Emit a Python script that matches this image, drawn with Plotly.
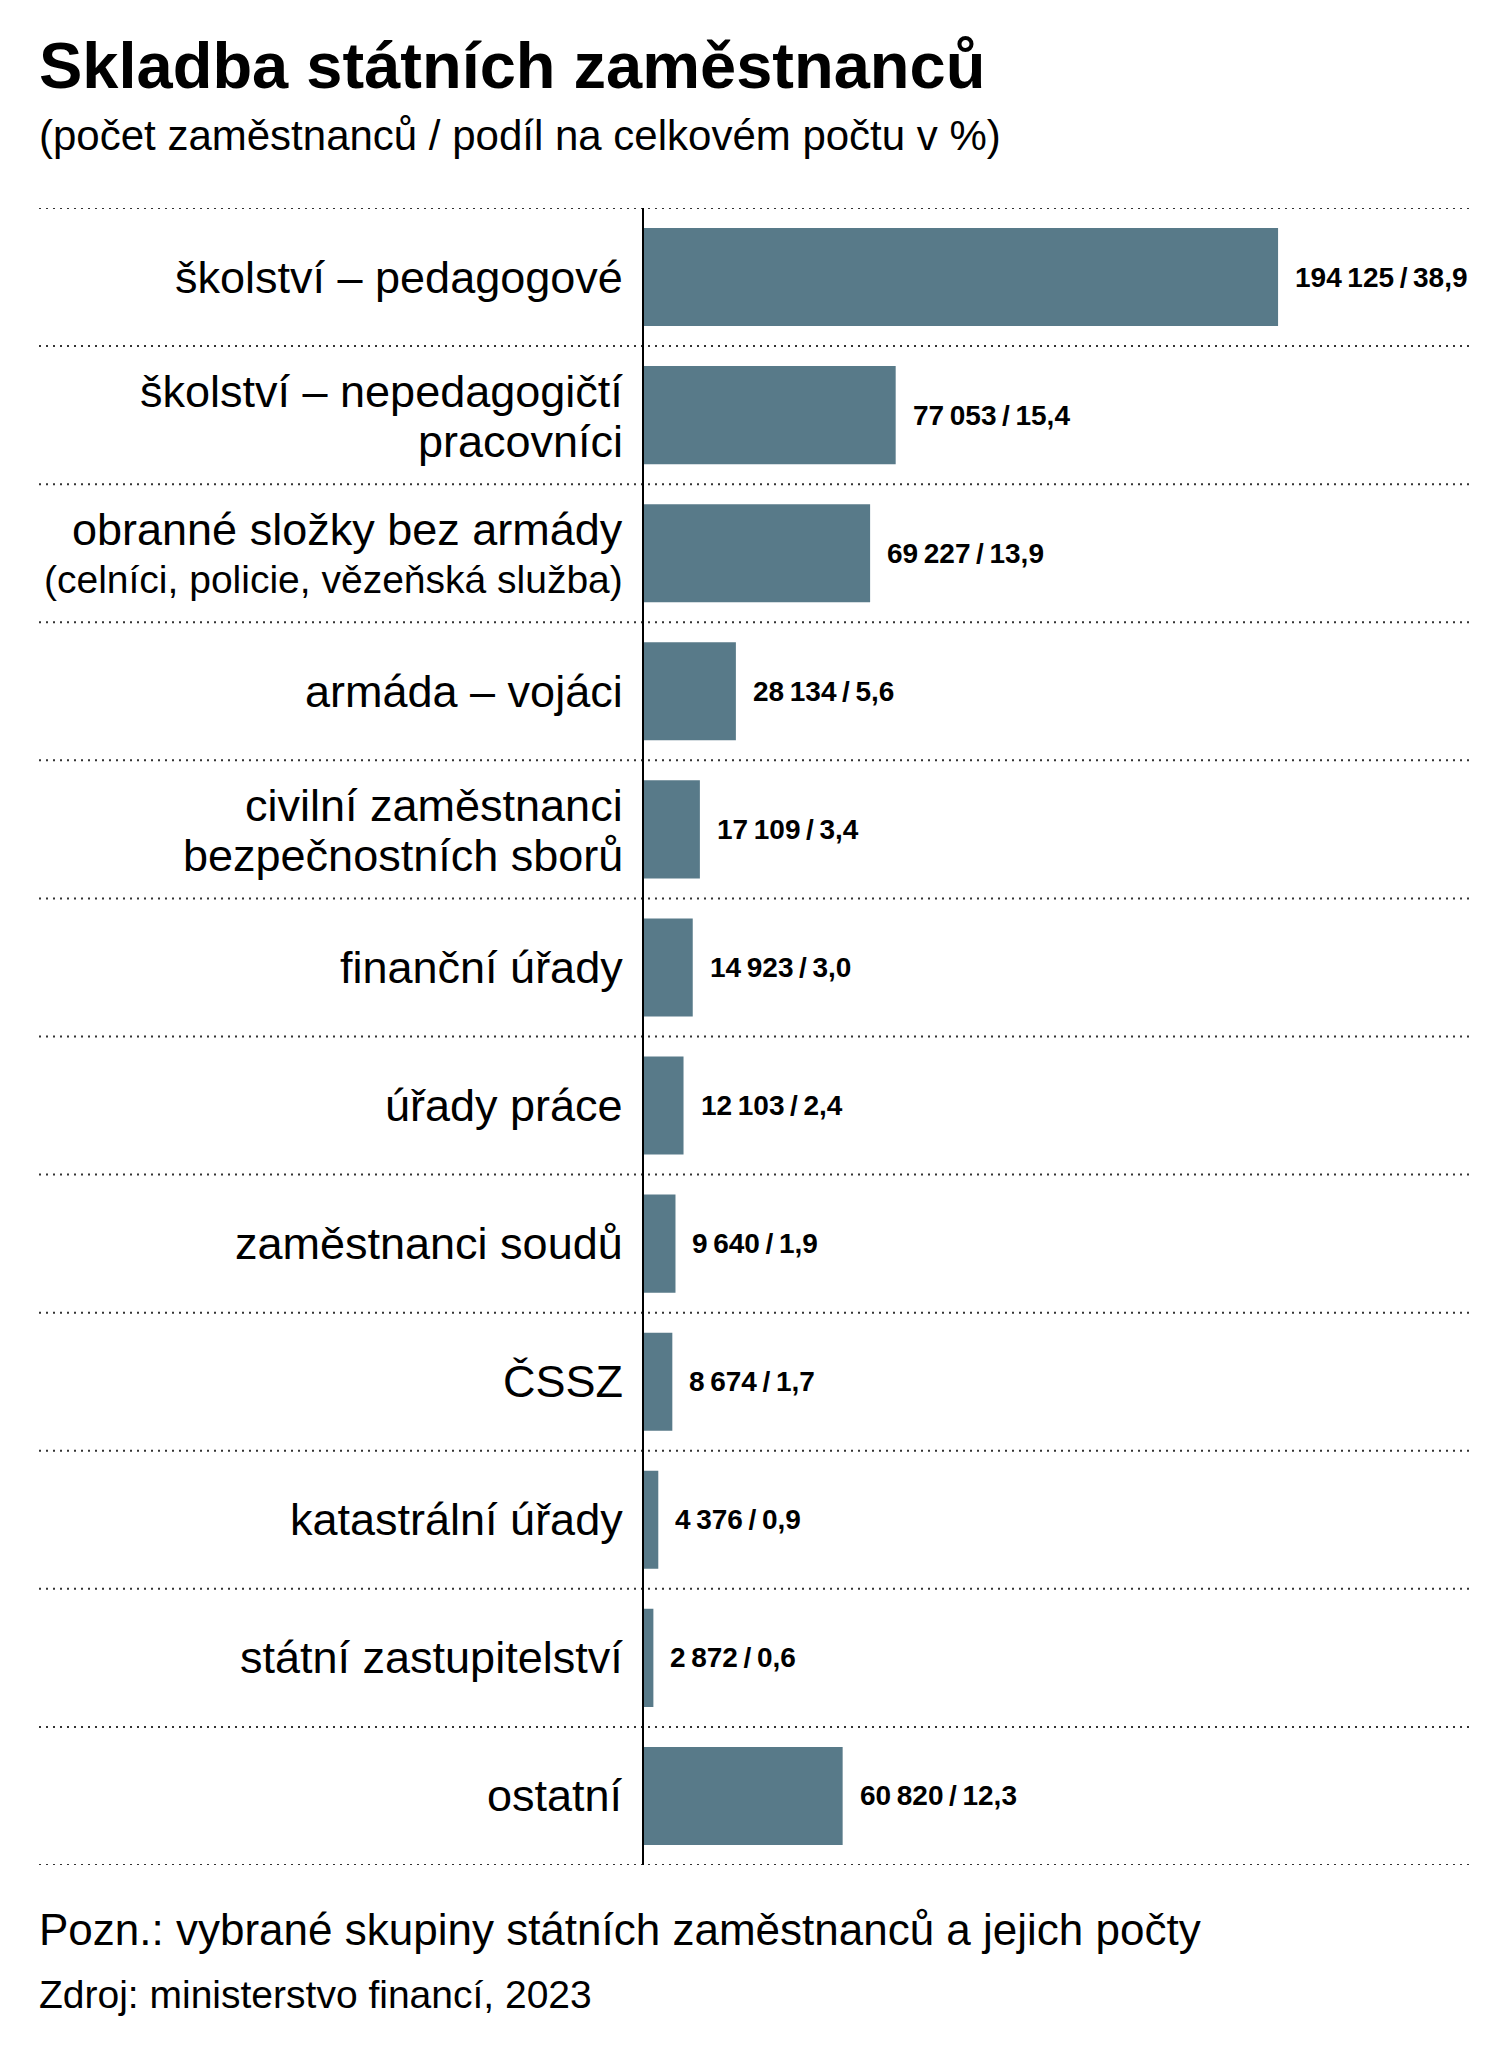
import plotly.graph_objects as go

categories = [
    "školství – pedagogové",
    "školství – nepedagogičtí|pracovníci",
    "obranné složky bez armády|(celníci, policie, vězeňská služba)",
    "armáda – vojáci",
    "civilní zaměstnanci|bezpečnostních sborů",
    "finanční úřady",
    "úřady práce",
    "zaměstnanci soudů",
    "ČSSZ",
    "katastrální úřady",
    "státní zastupitelství",
    "ostatní",
]
counts = [194125, 77053, 69227, 28134, 17109, 14923, 12103, 9640, 8674, 4376, 2872, 60820]
shares = [38.9, 15.4, 13.9, 5.6, 3.4, 3.0, 2.4, 1.9, 1.7, 0.9, 0.6, 12.3]

title = "Skladba státních zaměstnanců"
subtitle = "(počet zaměstnanců / podíl na celkovém počtu v %)"
note = "Pozn.: vybrané skupiny státních zaměstnanců a jejich počty"
source = "Zdroj: ministerstvo financí, 2023"

BAR = "#587a89"
FONT = "Liberation Sans, Arial, sans-serif"

W, H = 1510, 2048
L, R, T, B = 644, 38, 208, 183
plot_w = W - L - R
plot_h = H - T - B


def fmt_count(v):
    return f"{v:,}".replace(",", "\u2009")


def fmt_share(v):
    return f"{v:.1f}".replace(".", ",")


def py(pix):
    return (H - B - pix) / plot_h


def px(pix):
    return (pix - L) / plot_w


fig = go.Figure()
fig.add_trace(go.Bar(
    y=categories, x=counts, orientation="h",
    marker=dict(color=BAR, line=dict(width=0)),
    width=0.71, hoverinfo="skip",
))

annotations = []
# category labels (possibly two lines)
for cat in categories:
    lines = cat.split("|")
    shifts = [0] if len(lines) == 1 else [24, -26]
    for line, sh in zip(lines, shifts):
        size = 45 if len(line) < 30 else 39
        annotations.append(dict(
            x=0, y=cat, xref="x", yref="y", text=line, showarrow=False,
            xanchor="right", yanchor="middle", xshift=-19, yshift=sh,
            font=dict(family=FONT, size=size, color="#000"),
        ))
# value labels
for cat, c, s in zip(categories, counts, shares):
    annotations.append(dict(
        x=c, y=cat, xref="x", yref="y",
        text=f"{fmt_count(c)}\u2009/\u2009{fmt_share(s)}",
        showarrow=False, xanchor="left", yanchor="middle", xshift=15,
        font=dict(family=FONT, size=28, color="#000", weight="bold"),
    ))
# title, subtitle, notes
annotations += [
    dict(x=px(37), y=py(66), xref="paper", yref="paper", text=title, showarrow=False,
         xanchor="left", yanchor="middle",
         font=dict(family=FONT, size=65, color="#000", weight="bold")),
    dict(x=px(37), y=py(135), xref="paper", yref="paper", text=subtitle, showarrow=False,
         xanchor="left", yanchor="middle",
         font=dict(family=FONT, size=42, color="#000")),
    dict(x=px(37), y=py(1929), xref="paper", yref="paper", text=note, showarrow=False,
         xanchor="left", yanchor="middle",
         font=dict(family=FONT, size=44, color="#000")),
    dict(x=px(37), y=py(1994), xref="paper", yref="paper", text=source, showarrow=False,
         xanchor="left", yanchor="middle",
         font=dict(family=FONT, size=39, color="#000")),
]

shapes = []
for i in range(len(categories) + 1):
    shapes.append(dict(
        type="line", xref="paper", yref="y",
        x0=px(39), x1=px(1472), y0=i - 0.5, y1=i - 0.5,
        line=dict(color="#333", width=2, dash="2px,5px"), layer="below",
    ))

fig.update_layout(
    width=W, height=H,
    margin=dict(l=L, r=R, t=T, b=B, pad=0),
    paper_bgcolor="#fff", plot_bgcolor="#fff",
    showlegend=False,
    xaxis=dict(range=[0, 253500], visible=False, fixedrange=True),
    yaxis=dict(type="category", range=[len(categories) - 0.5, -0.5],
               showticklabels=False, showgrid=False, zeroline=False,
               showline=True, linecolor="#000", linewidth=2, ticks="",
               fixedrange=True),
    annotations=annotations, shapes=shapes,
)

fig.write_html("out.html", config={"displayModeBar": False})
